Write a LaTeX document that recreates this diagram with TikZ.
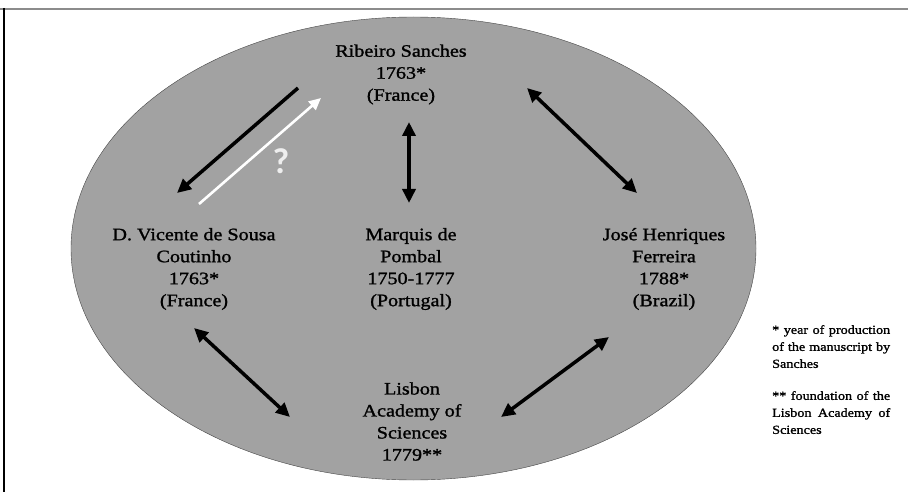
\documentclass[tikz,border=0pt]{standalone}
\usepackage{fontspec}
\setmainfont{Liberation Serif}
\newfontfamily\widefont[FakeStretch=1.15,FakeBold=1.3]{Liberation Serif}
\newfontfamily\queryfont{Carlito}
\usetikzlibrary{arrows.meta,shapes.geometric}

\definecolor{fieldgray}{RGB}{162,162,162}
\definecolor{rimgray}{RGB}{70,70,70}
\definecolor{framegray}{RGB}{140,140,140}
\definecolor{querywhite}{RGB}{238,238,238}

\begin{document}
\begin{tikzpicture}[x=1pt,y=-1pt]
        \tikzstyle{person} = [align=center,inner sep=0pt,font=\widefont\fontsize{17.5}{22}\selectfont]
        \tikzstyle{note} = [anchor=north west,inner sep=0pt,text width=118pt,align=justify,font=\widefont\fontsize{12.3}{17}\selectfont]
        \tikzstyle{link} = [line width=3.5pt,>={Triangle[length=14pt,width=13pt]}]
        \useasboundingbox (0,0) rectangle (908,492);
        \draw[framegray,line width=1.8pt] (0,8.7) -- (908,8.7);
        \draw[black,line width=1.3pt] (4,8) -- (4,492);
        \node[ellipse,draw=rimgray,fill=fieldgray,minimum width=685pt,minimum height=463pt,inner sep=0pt](field) at (413.5,248.5){};
        \node[person](sanches) at (401,74.5){Ribeiro Sanches\\1763*\\(France)};
        \node[person](vicente) at (194,269){D. Vicente de Sousa\\Coutinho\\1763*\\(France)};
        \node[person](pombal) at (411,269){Marquis de\\Pombal\\1750-1777\\(Portugal)};
        \node[person](ferreira) at (664,269){José Henriques\\Ferreira\\1788*\\(Brazil)};
        \node[person](lisbon) at (412,421.5){Lisbon\\Academy of\\Sciences\\1779**};
        \node[note](note1) at (772,325){* year of production\linebreak of the manuscript by\linebreak Sanches};
        \node[note](note2) at (772,391){** foundation of the\linebreak Lisbon Academy of\linebreak Sciences};
        \node[text=querywhite,inner sep=0pt,font=\queryfont\bfseries\fontsize{36}{36}\selectfont](query) at (281,161){?};
        \draw[link,->] ([shift={(-103,13.5)}]sanches.center) -- ([shift={(-17,-76)}]vicente.center);
        \draw[link,->,white,line width=2.6pt,>={Triangle[length=12pt,width=11pt]}] ([shift={(5,-65)}]vicente.center) -- ([shift={(-80,23.5)}]sanches.center);
        \draw[link,<->] ([shift={(8,47.5)}]sanches.center) -- ([shift={(-2,-66)}]pombal.center);
        \draw[link,<->] ([shift={(126,13.5)}]sanches.center) -- ([shift={(-27,-76)}]ferreira.center);
        \draw[link,<->] ([shift={(0,59)}]vicente.center) -- ([shift={(-122,-4.5)}]lisbon.center);
        \draw[link,<->] ([shift={(-55,68)}]ferreira.center) -- ([shift={(89,-4.5)}]lisbon.center);
    \end{tikzpicture}
\end{document}
